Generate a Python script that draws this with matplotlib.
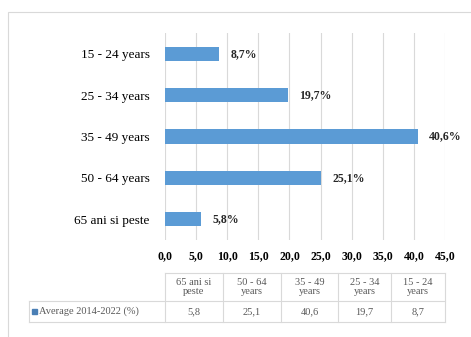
import matplotlib

matplotlib.use("Agg")
import matplotlib.pyplot as plt
from matplotlib.lines import Line2D
from matplotlib.patches import Rectangle

# data
categories = ["15 - 24 years", "25 - 34 years", "35 - 49 years", "50 - 64 years", "65 ani si peste"]
values = [8.7, 19.7, 40.6, 25.1, 5.8]
xticks = [0, 5, 10, 15, 20, 25, 30, 35, 40, 45]
table_heads = ["65 ani si\npeste", "50 - 64\nyears", "35 - 49\nyears", "25 - 34\nyears", "15 - 24\nyears"]
table_vals = ["5,8", "25,1", "40,6", "19,7", "8,7"]
series_name = "Average 2014-2022 (%)"

BLUE = "#5b9bd5"
GRID = "#d9d9d9"
W, H = 471, 337

plt.rcParams["font.family"] = ["Liberation Serif", "DejaVu Serif"]

fig = plt.figure(figsize=(W / 100, H / 100), dpi=100)


def fx(px):
    return px / W


def fy(py):
    return 1 - py / H


# outer chart border (runs off the right and bottom edges)
fig.add_artist(Rectangle((fx(8), fy(345)), fx(480) - fx(8), fy(12) - fy(345),
                         transform=fig.transFigure, fill=False, ec=GRID, lw=0.8))

ax = fig.add_axes([fx(165), fy(240), fx(445) - fx(165), fy(33) - fy(240)])
ypos = list(range(len(categories)))
ax.barh(ypos, values, height=0.34, color=BLUE, zorder=3)
ax.set_ylim(len(categories) - 0.5, -0.5)
ax.set_xlim(0, 45)
ax.set_xticks(xticks)
ax.set_xticklabels([f"{t:.1f}".replace(".", ",") for t in xticks], fontsize=8.5, fontweight="bold")
ax.set_yticks(ypos)
ax.set_yticklabels(categories, fontsize=9.5)
ax.tick_params(length=0)
ax.tick_params(axis="y", pad=11)
ax.tick_params(axis="x", pad=7)
ax.grid(axis="x", color=GRID, lw=0.8, zorder=0)
for s in ax.spines.values():
    s.set_visible(False)
for y, v in zip(ypos, values):
    ax.text(v + 1.8, y, f"{v:.1f}%".replace(".", ","), va="center", ha="left",
            fontsize=8.5, fontweight="bold", color="#262626")

# data table under the axis
col_edges = [165, 223, 281, 338, 391, 445]
top, mid, bot = 273, 301, 322
left = 29
tcolor = "#595959"


def hline(x0, x1, y):
    fig.add_artist(Line2D([fx(x0), fx(x1)], [fy(y), fy(y)], transform=fig.transFigure, color=GRID, lw=0.8))


def vline(x, y0, y1):
    fig.add_artist(Line2D([fx(x), fx(x)], [fy(y0), fy(y1)], transform=fig.transFigure, color=GRID, lw=0.8))


hline(col_edges[0], col_edges[-1], top)
hline(left, col_edges[-1], mid)
hline(left, col_edges[-1], bot)
vline(left, mid, bot)
for x in col_edges:
    vline(x, top, bot)
for i, (hd, v) in enumerate(zip(table_heads, table_vals)):
    cx = (col_edges[i] + col_edges[i + 1]) / 2
    fig.text(fx(cx), fy((top + mid) / 2), hd, ha="center", va="center", fontsize=7.5,
             color=tcolor, linespacing=1.1)
    fig.text(fx(cx), fy((mid + bot) / 2), v, ha="center", va="center", fontsize=7.5, color=tcolor)
fig.add_artist(Rectangle((fx(32), fy((mid + bot) / 2 + 2.5)), fx(5), fy(0) - fy(5),
                         transform=fig.transFigure, color="#4a7fb5"))
fig.text(fx(39), fy((mid + bot) / 2), series_name, ha="left", va="center", fontsize=7.5, color=tcolor)

fig.savefig("out.png", dpi=100)
